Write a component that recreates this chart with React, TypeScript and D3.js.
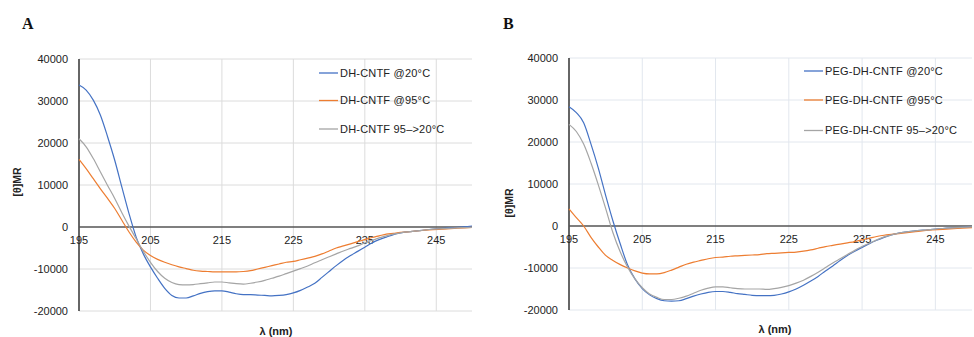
import React from 'react';
import * as d3 from 'd3';

// wavelength samples (nm), shared by all series
const wavelengths = [
  195, 196, 197, 198, 199, 200, 201, 202, 203, 204, 205, 206, 207, 208, 209, 210,
  211, 212, 213, 214, 215, 216, 217, 218, 219, 220, 221, 222, 223, 224, 225, 226,
  227, 228, 229, 230, 231, 232, 233, 234, 235, 236, 237, 238, 239, 240,
  242, 244, 246, 248, 250,
];

// panel A : DH-CNTF
const dh20 = [
  33800, 32600, 30200, 26600, 21500, 15900, 9500, 3200, -2400, -6400, -9500, -12200, -14600, -16300, -16900, -16900,
  -16400, -15800, -15400, -15200, -15200, -15500, -15900, -16100, -16100, -16200, -16300, -16400, -16300, -16100, -15700, -15100,
  -14300, -13400, -12000, -10600, -9200, -7900, -6800, -5800, -4800, -3800, -3000, -2400, -1800, -1400,
  -1000, -600, -300, -100, 200,
];
const dh95 = [
  16100, 13900, 11500, 9100, 6800, 4400, 1600, -1200, -3600, -5500, -6800, -7700, -8400, -9000, -9500, -9900,
  -10300, -10500, -10600, -10700, -10700, -10700, -10700, -10600, -10400, -10000, -9600, -9200, -8800, -8400, -8200, -7800,
  -7400, -7000, -6400, -5700, -5000, -4500, -4000, -3500, -3000, -2500, -2100, -1700, -1500, -1300,
  -1000, -700, -500, -300, -100,
];
const dhBack = [
  21000, 19100, 16300, 13100, 9900, 6800, 3400, 200, -2800, -5800, -8400, -10600, -12200, -13200, -13700, -13800,
  -13700, -13500, -13300, -13100, -13100, -13300, -13500, -13600, -13400, -13100, -12700, -12200, -11700, -11100, -10500, -9900,
  -9300, -8500, -7800, -7100, -6400, -5700, -5100, -4500, -3800, -3200, -2600, -2100, -1700, -1400,
  -1000, -600, -400, -200, -100,
];

// panel B : PEG-DH-CNTF
const peg20 = [
  28400, 27000, 24600, 19500, 13800, 7300, 1200, -4300, -9300, -12600, -14900, -16400, -17300, -17800, -17900, -17800,
  -17300, -16700, -16200, -15800, -15600, -15600, -15800, -16100, -16300, -16500, -16600, -16600, -16500, -16200, -15700, -15000,
  -14100, -13100, -12000, -10700, -9500, -8200, -7000, -6000, -5100, -4200, -3400, -2700, -2100, -1700,
  -1200, -900, -600, -400, -200,
];
const peg95 = [
  4100, 2000, 0, -2700, -5000, -7000, -8200, -9200, -10000, -10700, -11200, -11400, -11400, -11100, -10500, -9800,
  -9100, -8600, -8200, -7800, -7500, -7400, -7200, -7100, -7000, -6900, -6800, -6600, -6500, -6400, -6300, -6200,
  -6000, -5700, -5300, -4900, -4600, -4300, -4000, -3700, -3300, -2900, -2500, -2200, -2000, -1800,
  -1400, -1000, -800, -600, -400,
];
const pegBack = [
  24200, 22500, 19500, 15000, 9800, 4200, -1600, -6200, -9800, -12600, -14700, -16200, -17000, -17500, -17500, -17200,
  -16700, -16000, -15300, -14800, -14500, -14500, -14700, -14900, -15000, -15000, -15000, -15100, -14900, -14600, -14200, -13600,
  -12900, -12000, -11000, -9900, -8800, -7800, -6800, -5800, -4900, -4100, -3300, -2600, -2100, -1700,
  -1200, -900, -600, -400, -200,
];

const xTicks = [195, 205, 215, 225, 235, 245];
const yTicks = [-20000, -10000, 0, 10000, 20000, 30000, 40000];
const colors = ['#4472C4', '#ED7D31', '#A5A5A5'];
const labelsA = ['DH-CNTF @20°C', 'DH-CNTF @95°C', 'DH-CNTF 95–>20°C'];
const labelsB = ['PEG-DH-CNTF @20°C', 'PEG-DH-CNTF @95°C', 'PEG-DH-CNTF 95–>20°C'];

const FONT = 'Liberation Sans, Arial, sans-serif';

type PanelProps = {
  letter: string;
  letterX: number;
  left: number;
  right: number;
  top: number;
  bottom: number;
  series: number[][];
  labels: string[];
  legendX: number;
  legendY: number[];
  yTitleX: number;
  yTitleY: number;
  xTitleX: number;
  xTitleY: number;
  grid: string;
};

const Panel = (p: PanelProps) => {
  const x = d3.scaleLinear().domain([195, 250]).range([p.left, p.right]);
  const y = d3.scaleLinear().domain([-20000, 40000]).range([p.bottom, p.top]);
  const line = d3
    .line<number>()
    .x((_, i) => x(wavelengths[i]))
    .y((d) => y(d))
    .curve(d3.curveMonotoneX);

  return (
    <g>
      <text x={p.letterX} y={29} fontFamily="Liberation Serif, Times New Roman, serif" fontWeight="bold" fontSize={16} fill="#111">
        {p.letter}
      </text>
      {/* grid */}
      {yTicks.filter((t) => t !== 0).map((t) => (
        <line key={'h' + t} x1={p.left} x2={p.right} y1={y(t)} y2={y(t)} stroke={p.grid} strokeWidth={1} />
      ))}
      {xTicks.filter((t) => t !== 195).map((t) => (
        <line key={'v' + t} x1={x(t)} x2={x(t)} y1={p.top} y2={p.bottom} stroke={p.grid} strokeWidth={1} />
      ))}
      {/* axes */}
      <line x1={p.left} x2={p.left} y1={p.top} y2={p.bottom} stroke="#333" strokeWidth={1.5} />
      <line x1={p.left} x2={p.right} y1={y(0)} y2={y(0)} stroke="#555" strokeWidth={1.5} />
      {/* y tick labels */}
      {yTicks.map((t) => (
        <text key={'yl' + t} x={p.left - 11} y={y(t)} dy="0.35em" textAnchor="end" fontFamily={FONT} fontSize={11} fill="#222">
          {t}
        </text>
      ))}
      {/* x tick labels */}
      {xTicks.map((t) => (
        <text key={'xl' + t} x={x(t)} y={y(0) + 17} textAnchor="middle" fontFamily={FONT} fontSize={11} fill="#222">
          {t}
        </text>
      ))}
      {/* series */}
      {p.series.map((s, i) => (
        <path key={'s' + i} d={line(s) || ''} fill="none" stroke={colors[i]} strokeWidth={1.2} />
      ))}
      {/* legend */}
      {p.labels.map((l, i) => (
        <g key={'lg' + i}>
          <line x1={p.legendX} x2={p.legendX + 19} y1={p.legendY[i]} y2={p.legendY[i]} stroke={colors[i]} strokeWidth={1.3} />
          <text x={p.legendX + 21} y={p.legendY[i]} dy="0.35em" fontFamily={FONT} fontSize={11} fill="#222" letterSpacing={0.2}>
            {l}
          </text>
        </g>
      ))}
      {/* axis titles */}
      <text
        transform={`translate(${p.yTitleX},${p.yTitleY}) rotate(-90)`}
        textAnchor="middle"
        dy="0.35em"
        fontFamily={FONT}
        fontWeight="bold"
        fontSize={10.5}
        fill="#222"
      >
        [θ]MR
      </text>
      <text x={p.xTitleX} y={p.xTitleY} textAnchor="middle" fontFamily={FONT} fontWeight="bold" fontSize={11} fill="#222">
        λ (nm)
      </text>
    </g>
  );
};

const App = () => (
  <svg width={974} height={337} style={{ position: 'absolute', left: 0, top: 0, background: '#fff' }}>
    <Panel
      letter="A"
      letterX={22}
      left={79}
      right={472}
      top={59}
      bottom={311}
      series={[dh20, dh95, dhBack]}
      labels={labelsA}
      legendX={319}
      legendY={[73, 100.5, 129]}
      yTitleX={17}
      yTitleY={182}
      xTitleX={276}
      xTitleY={335}
      grid="#dcdcdc"
    />
    <Panel
      letter="B"
      letterX={503}
      left={569}
      right={972}
      top={58}
      bottom={310}
      series={[peg20, peg95, pegBack]}
      labels={labelsB}
      legendX={804}
      legendY={[71, 100, 130.5]}
      yTitleX={509}
      yTitleY={203}
      xTitleX={775}
      xTitleY={333}
      grid="#e2e7ee"
    />
  </svg>
);

export default App;
